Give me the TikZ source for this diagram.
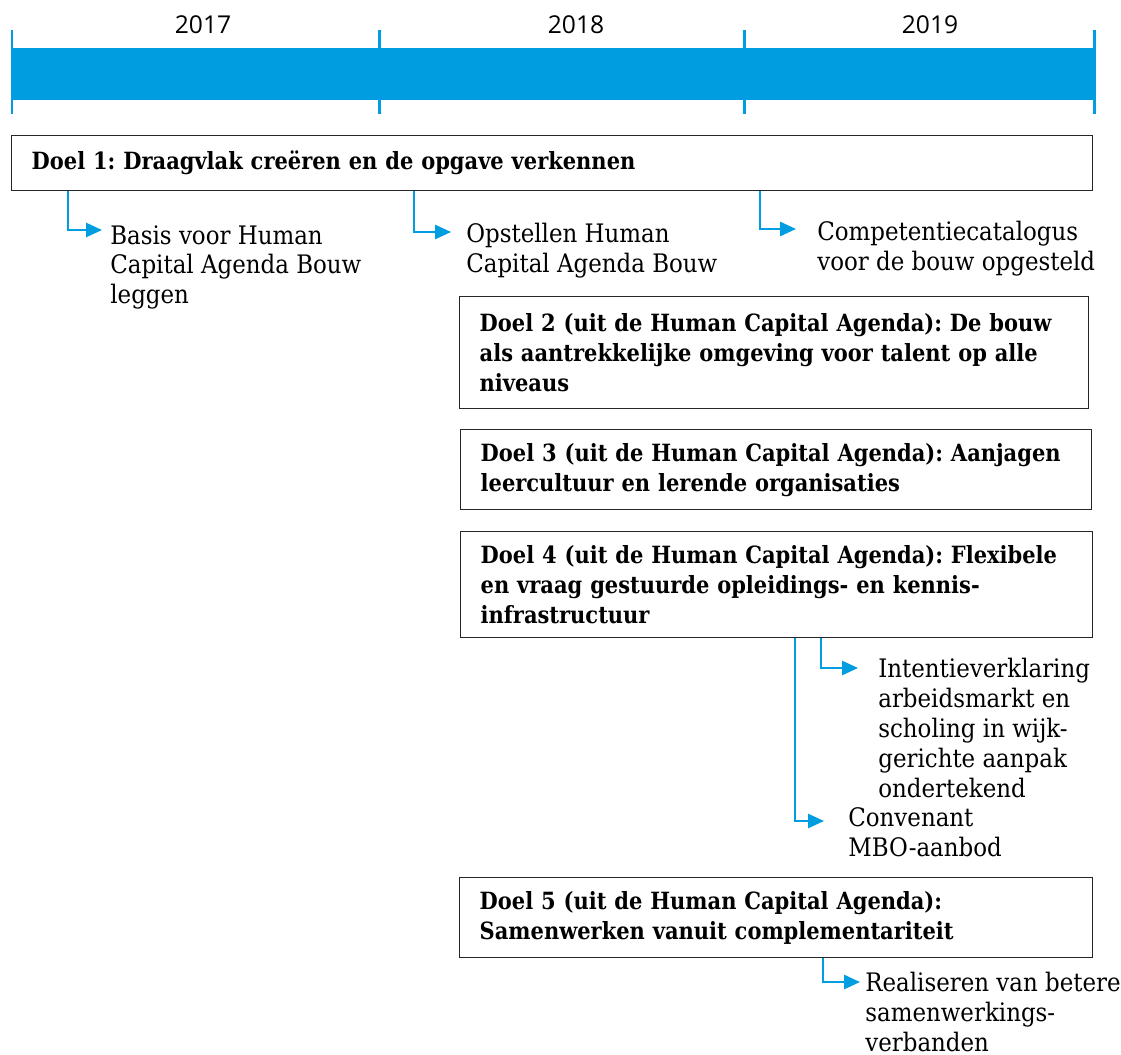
\documentclass[tikz,border=0pt]{standalone}
\usepackage{fontspec}
\setmainfont[FakeStretch=0.9]{DejaVu Serif}
\newfontfamily\goalfont[FakeStretch=0.885]{DejaVu Serif}
\newfontfamily\yearfont{Open Sans}
\usetikzlibrary{arrows.meta}
\definecolor{tlblue}{RGB}{0,158,224}
\frenchspacing
\tikzset{
  goal/.style={draw=black!85, line width=0.8pt, anchor=north west, align=left,
    inner xsep=0.4cm, inner ysep=0pt, font=\goalfont\bfseries\fontsize{13.5}{17}\selectfont},
  item/.style={anchor=north west, align=left, inner sep=0pt, font=\fontsize{14.5}{17}\selectfont},
  year/.style={font=\yearfont\fontsize{14}{16}\selectfont},
  link/.style={tlblue, line width=1.2pt, -{Triangle[length=9pt,width=8pt]}}
}
\begin{document}
\begin{tikzpicture}[x=0.02cm,y=-0.02cm]
\useasboundingbox (0,0) rectangle (1121,1054);

% timeline
\fill[tlblue] (12,48) rectangle (1094,100);
\foreach \x in {12,379,744,1094}
  \draw[tlblue, line width=1.7pt] (\x,30) -- (\x,114);
\node[year] (y2017) at (203,25) {2017};
\node[year] (y2018) at (576,25) {2018};
\node[year] (y2019) at (930,25) {2019};

% goals
\node[goal, text width=20.82cm, minimum height=1.1cm] (d1) at (11,135)
  {Doel 1: Draagvlak creëren en de opgave verkennen};
\node[goal, text width=11.78cm, minimum height=2.24cm] (d2) at (459,296)
  {Doel 2 (uit de Human Capital Agenda): De bouw\\als aantrekkelijke omgeving voor talent op alle\\niveaus};
\node[goal, text width=11.82cm, minimum height=1.6cm] (d3) at (460,429)
  {Doel 3 (uit de Human Capital Agenda): Aanjagen\\leercultuur en lerende organisaties};
\node[goal, text width=11.84cm, minimum height=2.12cm] (d4) at (460,531)
  {Doel 4 (uit de Human Capital Agenda): Flexibele\\en vraag gestuurde opleidings- en kennis-\\infrastructuur};
\node[goal, text width=11.86cm, minimum height=1.6cm] (d5) at (459,877)
  {Doel 5 (uit de Human Capital Agenda):\\Samenwerken vanuit complementariteit};

% results
\node[item] (basis) at (110,225) {Basis voor Human\\Capital Agenda Bouw\\leggen};
\node[item] (opstellen) at (466,223) {Opstellen Human\\Capital Agenda Bouw};
\node[item] (catalogus) at (817,221) {Competentiecatalogus\\voor de bouw opgesteld};
\node[item] (intentie) at (878,658) {Intentieverklaring\\arbeidsmarkt en\\scholing in wijk-\\gerichte aanpak\\ondertekend};
\node[item] (convenant) at (848,807) {Convenant\\MBO-aanbod};
\node[item] (realiseren) at (865,972) {Realiseren van betere\\samenwerkings-\\verbanden};

% links
\coordinate (k1) at (68,230);  \coordinate (a1) at (102,230);
\coordinate (k2) at (414,232); \coordinate (a2) at (451,232);
\coordinate (k3) at (760,229); \coordinate (a3) at (796,229);
\coordinate (k4) at (821,668); \coordinate (a4) at (858,668);
\coordinate (k5) at (795,821); \coordinate (a5) at (824,821);
\coordinate (k6) at (823,982); \coordinate (a6) at (860,982);
\draw[link] (d1.south -| k1) |- (a1);
\draw[link] (d1.south -| k2) |- (a2);
\draw[link] (d1.south -| k3) |- (a3);
\draw[link] (d4.south -| k4) |- (a4);
\draw[link] (d4.south -| k5) |- (a5);
\draw[link] (d5.south -| k6) |- (a6);
\end{tikzpicture}
\end{document}
